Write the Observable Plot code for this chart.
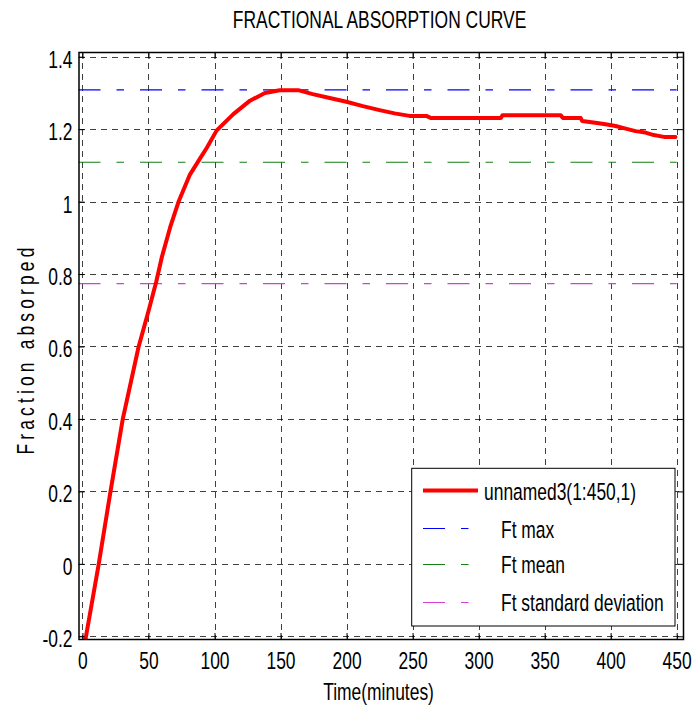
<!DOCTYPE html>
<html><head><meta charset="utf-8">
<script src="https://cdn.jsdelivr.net/npm/d3@7"></script>
<script src="https://cdn.jsdelivr.net/npm/@observablehq/plot@0.6"></script>
<style>
html,body{margin:0;padding:0;background:#fff;}
#chart{width:693px;height:708px;}
</style></head><body><div id="chart"></div>
<script>
const title = "FRACTIONAL ABSORPTION CURVE";
const xLabel = "Time(minutes)";
const yLabel = "Fraction absorped";
const seriesName = "unnamed3(1:450,1)";

const time = [1.9, 11.9, 20.8, 30.1, 42.1, 49.7, 55.5, 59.8, 66, 72.3, 81, 87.4, 93.8, 101.3, 113.9, 126.5, 137.8, 149, 163, 174, 186, 199.5, 212, 224.6, 236, 247.3, 260, 263.7, 316.5, 317.7, 361.8, 363.5, 377, 378, 388, 395.8, 403.4, 411, 418.5, 426, 432.3, 440, 448.7];
const fraction = [-0.207, 0.0, 0.2, 0.4, 0.6, 0.70, 0.78, 0.849, 0.93, 1.0, 1.076, 1.113, 1.15, 1.198, 1.243, 1.28, 1.301, 1.309, 1.309, 1.298, 1.288, 1.277, 1.265, 1.254, 1.245, 1.238, 1.238, 1.232, 1.232, 1.24, 1.24, 1.232, 1.232, 1.224, 1.219, 1.215, 1.21, 1.203, 1.196, 1.192, 1.185, 1.18, 1.18];

const refNames = ["Ft max", "Ft mean", "Ft standard deviation"];
const refValues = [1.31, 1.11, 0.775];
const refColors = ["#0000ff", "#138013", "#d23fd2"];

const xTicks = [0, 50, 100, 150, 200, 250, 300, 350, 400, 450];
const yTicks = [-0.2, 0, 0.2, 0.4, 0.6, 0.8, 1, 1.2, 1.4];
const xDomain = [-3, 454.8];
const yDomain = [-0.2075, 1.413];

const FONT = '"Liberation Sans",Arial,sans-serif';
const SX = 0.83, SY = 1.11;
const dash = "22,16,7.5,16";
const gridStyle = {stroke: "#000", strokeOpacity: 0.75, strokeDasharray: "6,5", strokeWidth: 1, shapeRendering: "crispEdges"};
const fmtY = d => d === 0 ? "0" : String(+d.toFixed(1));

const data = time.map((t, i) => ({t, v: fraction[i]}));
const refs = refNames.map((name, i) => ({name, value: refValues[i], color: refColors[i]}));
const xEnd = xTicks[xTicks.length - 1];

const svg = Plot.plot({
  width: 693, height: 708,
  marginLeft: 78.5, marginRight: 10, marginTop: 52, marginBottom: 69,
  style: {fontFamily: FONT, fontSize: "21px", color: "#000", background: "#fff", overflow: "visible"},
  x: {domain: xDomain},
  y: {domain: yDomain},
  marks: [
    Plot.gridX(xTicks, gridStyle),
    Plot.gridY(yTicks, gridStyle),
    ...refs.map(r => Plot.ruleY([r.value], {x1: xDomain[0], x2: xEnd, stroke: r.color, strokeWidth: 1.2, strokeDasharray: dash})),
    Plot.line(data, {x: "t", y: "v", stroke: "#ff0000", strokeWidth: 4, clip: true}),
    Plot.frame({stroke: "#000", strokeWidth: 1.5}),
    Plot.axisX(xTicks, {anchor: "bottom", tickSize: -6, tickPadding: 19, label: null, fontSize: 21}),
    Plot.axisX(xTicks, {anchor: "top", tickSize: -6, tickFormat: () => "", label: null}),
    Plot.axisY(yTicks, {anchor: "left", tickSize: -6, tickFormat: () => "", label: null}),
    Plot.axisY(yTicks, {anchor: "left", tickSize: 0, tickPadding: 6.5, dy: 3, tickFormat: fmtY, label: null, fontSize: 21}),
    Plot.axisY(yTicks, {anchor: "right", tickSize: -6, tickFormat: () => "", label: null}),
    Plot.text([title], {frameAnchor: "top", textAnchor: "middle", lineAnchor: "bottom", dy: -25, dx: -1.7, fontSize: 21}),
    Plot.text([xLabel], {frameAnchor: "bottom", textAnchor: "middle", lineAnchor: "bottom", dy: 60, dx: -2.7, fontSize: 21}),
    Plot.text([yLabel], {frameAnchor: "left", textAnchor: "middle", rotate: -90, lineAnchor: "bottom", dx: -45.5, dy: 3, fontSize: 21})
  ]
});

// letter-spaced y label
svg.querySelectorAll("text").forEach(el => {
  if (el.textContent === yLabel) el.style.letterSpacing = "5px";
});

// legend
const lg = d3.select(svg).append("g").attr("font-family", FONT).attr("font-size", 21).attr("text-anchor", "start");
lg.append("rect").attr("x", 411.7).attr("y", 468.3).attr("width", 263.3).attr("height", 157.7)
  .attr("fill", "#fff").attr("stroke", "#000").attr("stroke-width", 1);
const entries = [{name: seriesName, color: "#ff0000", width: 4, dash: null, tx: 484}]
  .concat(refs.map(r => ({name: r.name, color: r.color, width: 1.2, dash: dash, tx: 501})));
const baselines = [500, 538, 573.3, 610.7];
const lineYs = [490.5, 528.5, 564.5, 602.5];
entries.forEach((e, i) => {
  lg.append("line").attr("x1", 423).attr("x2", e.dash ? 469.5 : 478).attr("y1", lineYs[i]).attr("y2", lineYs[i])
    .attr("stroke", e.color).attr("stroke-width", e.width).attr("stroke-dasharray", e.dash);
  lg.append("text").attr("x", e.tx).attr("y", baselines[i]).attr("fill", "#000").attr("text-anchor", "start").text(e.name);
});

// condensed, vertically stretched glyphs (as in the reference)
svg.querySelectorAll("text").forEach(el => {
  const tr = el.getAttribute("transform") || "";
  const x = el.getAttribute("x"), y = el.getAttribute("y");
  let tx = 0, ty = 0;
  if (x != null && !/em/.test(x)) { tx = +x; el.removeAttribute("x"); }
  if (y != null && !/em/.test(y)) { ty = +y; el.removeAttribute("y"); }
  el.setAttribute("transform", `${tr} translate(${tx},${ty}) scale(${SX},${SY})`);
});

document.getElementById("chart").appendChild(svg);
</script></body></html>
